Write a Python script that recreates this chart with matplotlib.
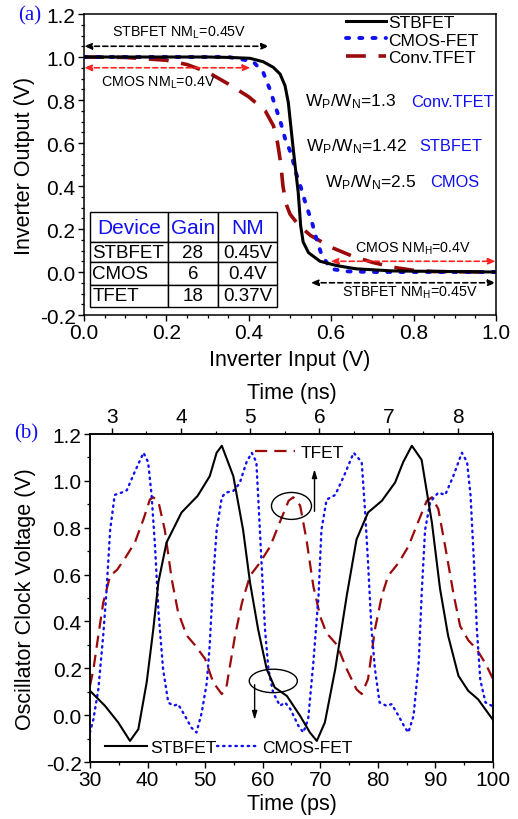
import matplotlib
matplotlib.use('Agg')
import matplotlib.pyplot as plt
from matplotlib.patches import Ellipse
from matplotlib.lines import Line2D
from matplotlib.ticker import MultipleLocator

plt.rcParams['font.family'] = ['Liberation Sans', 'DejaVu Sans']
plt.rcParams['mathtext.fontset'] = 'custom'
plt.rcParams['mathtext.rm'] = 'Liberation Sans'
plt.rcParams['mathtext.it'] = 'Liberation Sans:italic'

# ---- (a) inverter transfer curves ----
vin_stb = [0.0, 0.30, 0.354, 0.403, 0.435, 0.4595, 0.476, 0.488, 0.496, 0.502, 0.508, 0.513,
           0.52, 0.526, 0.532, 0.545, 0.573, 0.613, 0.66, 0.75, 1.0]
vout_stb = [1.0, 1.0, 0.998, 0.994, 0.978, 0.952, 0.921, 0.867, 0.789, 0.68, 0.572, 0.487,
            0.371, 0.215, 0.14, 0.09, 0.05, 0.03, 0.015, 0.005, 0.0]

vin_cmos = [0.0, 0.35, 0.41, 0.435, 0.451, 0.464, 0.477, 0.488, 0.504, 0.514, 0.527,
            0.539, 0.553, 0.565, 0.577, 0.60, 0.64, 0.70, 1.0]
vout_cmos = [1.0, 1.0, 0.98, 0.929, 0.851, 0.774, 0.699, 0.622, 0.544, 0.464, 0.39,
             0.312, 0.234, 0.15, 0.079, 0.014, 0.003, 0.0, 0.0]

vin_tfet = [0.0, 0.1, 0.2, 0.25, 0.3, 0.35, 0.4, 0.44, 0.46, 0.47, 0.478, 0.483,
            0.49, 0.5, 0.52, 0.55, 0.6, 0.65, 0.7, 0.75, 0.8, 0.85, 1.0]
vout_tfet = [1.0, 0.998, 0.985, 0.965, 0.93, 0.875, 0.815, 0.75, 0.68, 0.6, 0.5, 0.4,
             0.32, 0.27, 0.22, 0.17, 0.115, 0.075, 0.045, 0.022, 0.008, 0.002, 0.0]

table_rows = [["STBFET", "28", "0.45V"], ["CMOS", "6", "0.4V"], ["TFET", "18", "0.37V"]]
table_head = ["Device", "Gain", "NM"]

# ---- (b) ring oscillator clock ----
t_stb = [30.0, 32.6, 34.9, 36.95, 38.4, 39.85, 41.0, 41.87, 43.3, 45.9, 48.7, 50.8, 52.0, 52.9,
         54.9, 56.6, 57.8, 59.2, 60.7, 62.1, 64.2, 66.5, 68.2, 69.4, 70.8, 72.6, 74.6, 76.3,
         78.3, 80.7, 83.0, 84.4, 85.9, 87.6, 89.4, 90.8, 92.2, 94.0, 95.7, 97.4, 100.0]
v_stb = [0.104, 0.04, -0.031, -0.11, -0.06, 0.14, 0.367, 0.566, 0.737, 0.865, 0.936, 1.02, 1.12, 1.15,
         1.02, 0.79, 0.566, 0.367, 0.196, 0.118, 0.082, -0.003, -0.074, -0.11, -0.031, 0.196, 0.51, 0.75,
         0.865, 0.915, 0.993, 1.08, 1.15, 1.09, 0.82, 0.54, 0.34, 0.168, 0.104, 0.068, -0.02]

t_cmos = [30.0, 30.6, 31.45, 32.3, 32.9, 33.5, 34.3, 35.5, 36.4, 37.8, 39.3, 40.1, 40.7, 41.3,
          41.9, 42.7, 43.6, 44.5, 45.3, 46.5, 47.6, 48.5,
          49.4, 50.3, 50.8, 51.4, 52.0, 52.9, 53.6, 54.9, 56.0, 57.2, 58.1, 58.9, 59.2, 59.8,
          60.4, 61.0, 61.8, 63.0, 63.9, 64.8, 66.2, 67.05,
          67.9, 68.8, 69.7, 70.2, 71.1, 72.6, 74.1, 75.8, 77.2, 77.8, 78.3, 78.9, 79.5, 80.3,
          81.5, 82.4, 83.6, 84.7, 85.3,
          86.2, 87.1, 87.6, 88.2, 89.1, 90.5, 91.7, 93.1, 94.6, 95.5, 96.1, 96.7, 97.2, 97.8,
          98.7, 99.8, 100.0]
v_cmos = [-0.074, -0.017, 0.11, 0.34, 0.54, 0.79, 0.94, 0.95, 0.96, 1.04, 1.12, 1.08, 0.94, 0.72,
          0.44, 0.196, 0.054, 0.04, 0.047, -0.003, -0.053, -0.074,
          0.01, 0.14, 0.30, 0.58, 0.79, 0.93, 0.95, 0.957, 0.99, 1.08, 1.12, 1.08, 0.94, 0.65,
          0.367, 0.196, 0.097, 0.04, 0.054, 0.026, -0.045, -0.074,
          -0.017, 0.225, 0.51, 0.79, 0.92, 0.94, 1.02, 1.12, 1.08, 0.865, 0.65, 0.367, 0.196, 0.054,
          0.04, 0.047, -0.003, -0.053, -0.074,
          -0.003, 0.225, 0.51, 0.79, 0.91, 0.95, 0.94, 1.02, 1.12, 1.08, 0.94, 0.65, 0.367, 0.15,
          0.054, 0.04, 0.04]

t_tfet = [30.0, 30.6, 31.45, 32.3, 33.5, 34.7, 36.1, 37.8, 39.3, 40.4, 41.0, 41.9, 43.0, 44.2,
          45.3, 46.8, 48.2, 50.0, 51.4, 52.9, 53.7, 55.2, 56.4, 57.8, 59.5, 61.3, 63.0, 64.5,
          65.3, 66.5, 67.6, 68.8, 70.0, 71.1, 72.9, 74.6, 76.3, 77.2, 78.3, 79.5, 80.7, 81.8,
          83.6, 85.3, 87.0, 88.5, 89.4, 90.5, 91.7, 93.2, 94.3, 95.7, 97.2, 98.7, 100.0]
v_tfet = [0.125, 0.196, 0.34, 0.48, 0.595, 0.62, 0.67, 0.737, 0.837, 0.92, 0.93, 0.91, 0.79, 0.58,
          0.44, 0.34, 0.30, 0.24, 0.14, 0.09, 0.12, 0.34, 0.48, 0.595, 0.65, 0.72, 0.825, 0.915,
          0.93, 0.895, 0.75, 0.55, 0.42, 0.35, 0.30, 0.196, 0.11, 0.09, 0.154, 0.367, 0.51, 0.595,
          0.65, 0.72, 0.825, 0.915, 0.93, 0.88, 0.72, 0.51, 0.38, 0.32, 0.28, 0.22, 0.155]

blue = '#1010f0'
dred = '#9a0a0a'

fig = plt.figure(figsize=(5.18, 8.2), dpi=100)
ax1 = fig.add_axes([0.162, 0.6146, 0.7955, 0.3671])
ax2 = fig.add_axes([0.1737, 0.0695, 0.778, 0.4])

for ax in (ax1, ax2):
    for s in ax.spines.values():
        s.set_linewidth(1.1)
    ax.tick_params(which='major', direction='out', length=4, width=1.0, labelsize=15, pad=2)
    ax.tick_params(which='minor', direction='out', length=2.2, width=0.9)
    ax.tick_params(top=False, right=False, which='both')

# ---- panel (a) ----
ax1.plot(vin_stb, vout_stb, color='black', lw=2.2, label='STBFET', zorder=4)
ax1.plot(vin_cmos, vout_cmos, color=blue, lw=2.8, ls=(0, (0.8, 2.6)), label='CMOS-FET',
         dash_capstyle='round', zorder=3)
ax1.plot(vin_tfet, vout_tfet, color=dred, lw=2.6, ls=(0, (5.5, 3.5)), label='Conv.TFET', zorder=2)
ax1.set_xlim(0, 1.0)
ax1.set_ylim(-0.2, 1.2)
ax1.xaxis.set_major_locator(MultipleLocator(0.2))
ax1.xaxis.set_minor_locator(MultipleLocator(0.05))
ax1.yaxis.set_major_locator(MultipleLocator(0.2))
ax1.yaxis.set_minor_locator(MultipleLocator(0.05))
ax1.xaxis.set_major_formatter(lambda v, p: f'{v:.1f}')
ax1.yaxis.set_major_formatter(lambda v, p: f'{v:.1f}')
ax1.set_xlabel('Inverter Input (V)', fontsize=15.5)
ax1.set_ylabel('Inverter Output (V)', fontsize=15.5)
ax1.xaxis.set_label_coords(0.5, -0.148)
ax1.xaxis.label.set_va('center')
ax1.yaxis.set_label_coords(-0.143, 0.5)
ax1.yaxis.label.set_va('center')

ax1.legend(loc='upper left', bbox_to_anchor=(0.635, 0.998), frameon=False, fontsize=12.5,
           handlelength=2.3, handletextpad=0.15, labelspacing=0.15, borderpad=0, borderaxespad=0)

arr = dict(arrowstyle='<|-|>,head_length=0.45,head_width=0.18', lw=1.2, ls=(0, (3, 2)),
           shrinkA=0, shrinkB=0)
ax1.annotate('', xy=(0.45, 1.05), xytext=(0.0, 1.05), arrowprops=dict(arr, color='black'))
ax1.annotate('', xy=(0.405, 0.95), xytext=(0.0, 0.95), arrowprops=dict(arr, color='#ff2222'))
ax1.annotate('', xy=(1.0, 0.05), xytext=(0.598, 0.05), arrowprops=dict(arr, color='#ff2222'))
ax1.annotate('', xy=(1.0, -0.05), xytext=(0.55, -0.05), arrowprops=dict(arr, color='black'))
ax1.text(0.23, 1.115, r'STBFET NM$_\mathrm{L}$=0.45V', fontsize=10.3, ha='center', va='center')
ax1.text(0.18, 0.885, r'CMOS NM$_\mathrm{L}$=0.4V', fontsize=10.3, ha='center', va='center')
ax1.text(0.80, 0.113, r'CMOS NM$_\mathrm{H}$=0.4V', fontsize=10.3, ha='center', va='center')
ax1.text(0.792, -0.093, r'STBFET NM$_\mathrm{H}$=0.45V', fontsize=10.3, ha='center', va='center')

ax1.text(0.536, 0.795, r'W$_\mathrm{P}$/W$_\mathrm{N}$=1.3', fontsize=12.5, va='center')
ax1.text(0.795, 0.795, 'Conv.TFET', fontsize=11.8, va='center', color=blue)
ax1.text(0.54, 0.59, r'W$_\mathrm{P}$/W$_\mathrm{N}$=1.42', fontsize=12.5, va='center')
ax1.text(0.815, 0.59, 'STBFET', fontsize=11.8, va='center', color=blue)
ax1.text(0.585, 0.42, r'W$_\mathrm{P}$/W$_\mathrm{N}$=2.5', fontsize=12.5, va='center')
ax1.text(0.84, 0.42, 'CMOS', fontsize=11.8, va='center', color=blue)

tab = ax1.table(cellText=table_rows, colLabels=table_head,
                bbox=[0.0146, 0.027, 0.454, 0.315], colWidths=[0.417, 0.267, 0.316])
tab.auto_set_font_size(False)
row_h = [30, 20, 23, 22]
for (r, c), cell in tab.get_celld().items():
    cell.set_linewidth(1.0)
    cell.set_height(row_h[r] / 95)
    cell.PAD = 0.03
    if r == 0:
        cell.get_text().set_color(blue)
        cell.get_text().set_fontsize(15)
        cell.get_text().set_ha('center')
    else:
        cell.get_text().set_fontsize(13.5)
        cell.get_text().set_ha('left' if c == 0 else 'center')
        cell._loc = 'left' if c == 0 else 'center'

fig.text(0.058, 0.981, '(a)', fontsize=15, color=blue, family='Liberation Serif',
         ha='center', va='center')

# ---- panel (b) ----
ax2.plot(t_stb, v_stb, color='black', lw=1.5, zorder=4)
ax2.plot(t_cmos, v_cmos, color=blue, lw=1.7, ls=(0, (0.6, 2.0)), dash_capstyle='round', zorder=3)
ax2.plot(t_tfet, v_tfet, color=dred, lw=1.6, ls=(0, (5.5, 3.2)), zorder=2)
ax2.set_xlim(30, 100)
ax2.set_ylim(-0.2, 1.2)
ax2.xaxis.set_major_locator(MultipleLocator(10))
ax2.xaxis.set_minor_locator(MultipleLocator(5))
ax2.yaxis.set_major_locator(MultipleLocator(0.2))
ax2.yaxis.set_minor_locator(MultipleLocator(0.1))
ax2.yaxis.set_major_formatter(lambda v, p: f'{v:.1f}')
ax2.set_xlabel('Time (ps)', fontsize=15.5)
ax2.set_ylabel('Oscillator Clock Voltage (V)', fontsize=15.5)
ax2.xaxis.set_label_coords(0.5, -0.128)
ax2.xaxis.label.set_va('center')
ax2.yaxis.set_label_coords(-0.161, 0.5)
ax2.yaxis.label.set_va('center')

axt = ax2.twiny()
axt.set_xlim(2.684, 8.508)
axt.xaxis.set_major_locator(MultipleLocator(1))
axt.xaxis.set_minor_locator(MultipleLocator(0.5))
axt.tick_params(which='major', direction='out', length=4, width=1.0, labelsize=15, pad=2)
axt.tick_params(which='minor', direction='out', length=2.2, width=0.9)
axt.set_xlabel('Time (ns)', fontsize=15.5)
axt.xaxis.set_label_coords(0.5, 1.128)
axt.xaxis.label.set_va('center')
for s in axt.spines.values():
    s.set_linewidth(1.1)

h_stb = Line2D([], [], color='black', lw=1.5)
h_cmos = Line2D([], [], color=blue, lw=1.7, ls=(0, (0.6, 2.0)), dash_capstyle='round')
h_tfet = Line2D([], [], color=dred, lw=1.6, ls=(0, (5.5, 3.2)))
lg = ax2.legend([h_stb, h_cmos], ['STBFET', 'CMOS-FET'], ncol=2, loc='center left',
                bbox_to_anchor=(0.038, 0.043), frameon=False, fontsize=12.5, handlelength=2.4,
                handletextpad=0.2, columnspacing=0.0, borderpad=0, borderaxespad=0)
ax2.add_artist(lg)
ax2.legend([h_tfet], ['TFET'], loc='center left', bbox_to_anchor=(0.41, 0.943), frameon=False,
           fontsize=12.5, handlelength=2.3, handletextpad=0.3, borderpad=0, borderaxespad=0)

ax2.add_patch(Ellipse((65.0, 0.893), 6.95, 0.115, fill=False, lw=1.0, color='black', zorder=5))
ax2.annotate('', xy=(69.0, 1.05), xytext=(69.0, 0.87),
             arrowprops=dict(arrowstyle='-|>,head_length=0.5,head_width=0.15', lw=1.0,
                             color='black', shrinkA=0, shrinkB=0))
ax2.add_patch(Ellipse((61.84, 0.146), 8.35, 0.1, fill=False, lw=1.0, color='black', zorder=5))
ax2.annotate('', xy=(58.6, -0.02), xytext=(58.6, 0.13),
             arrowprops=dict(arrowstyle='-|>,head_length=0.5,head_width=0.15', lw=1.0,
                             color='black', shrinkA=0, shrinkB=0))

fig.text(0.05, 0.471, '(b)', fontsize=15, color=blue, family='Liberation Serif',
         ha='center', va='center')

fig.savefig('out.png', dpi=100)
